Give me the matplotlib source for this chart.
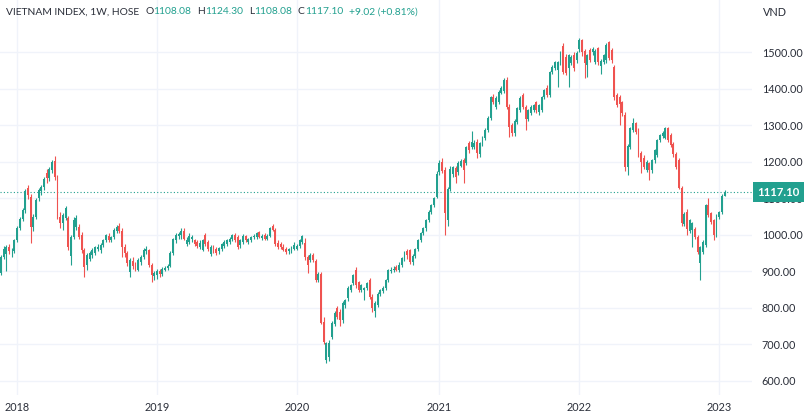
import matplotlib
matplotlib.use("Agg")
import matplotlib.pyplot as plt

W, H = 810, 420
UP, DOWN = "#22a08f", "#ef5350"
TXT = "#2a2e39"
GRID = "#f0f3fa"
plt.rcParams["font.family"] = ["Lato", "DejaVu Sans"]

years = ["2018", "2019", "2020", "2021", "2022", "2023"]
year_bar = [6, 58, 110, 163, 215, 267]     # index of first weekly bar of each year
price_ticks = [600, 700, 800, 900, 1000, 1100, 1200, 1300, 1400, 1500]

# weekly bars, late Nov 2017 .. mid Jan 2023 (one line per year)
opens = [
    895, 940, 948, 966, 955, 957,
    986, 1019, 1045, 1068, 1128, 1105, 1022, 1050, 1100, 1120, 1131, 1170, 1155, 1178, 1204, 1158, 1048, 1032, 1046, 1046, 942, 994, 1022, 1022, 1000, 959, 918, 935, 945, 952, 962, 959, 973, 986, 997, 986, 994, 1011, 1025, 1012, 967, 950, 898, 930, 915, 905, 925, 940, 955, 958, 918, 888,
    890, 902, 893, 904, 910, 916, 950, 985, 998, 1000, 1012, 975, 980, 988, 985, 980, 968, 960, 1000, 980, 948, 966, 962, 955, 962, 970, 975, 980, 990, 1000, 994, 972, 982, 996, 982, 986, 994, 994, 1007, 992, 1000, 990, 998, 1025, 1014, 978, 975, 968, 962, 955, 960, 962,
    962, 970, 980, 977, 939, 931, 945, 930, 877, 893, 762, 658, 665, 720, 757, 800, 788, 766, 808, 826, 850, 868, 905, 870, 850, 849, 856, 877, 829, 793, 808, 838, 846, 855, 877, 900, 904, 912, 904, 918, 937, 955, 958, 925, 943, 961, 985, 1005, 1018, 1041, 1064, 1082, 1104,
    1172, 1200, 1178, 1040, 1127, 1168, 1183, 1172, 1190, 1205, 1198, 1252, 1241, 1242, 1255, 1222, 1250, 1266, 1288, 1321, 1378, 1352, 1364, 1390, 1394, 1425, 1351, 1301, 1280, 1310, 1342, 1384, 1350, 1318, 1334, 1342, 1364, 1337, 1342, 1378, 1403, 1384, 1447, 1458, 1452, 1471, 1518, 1488, 1458, 1471, 1493, 1479,
    1510, 1535, 1505, 1466, 1507, 1500, 1474, 1512, 1462, 1474, 1479, 1528, 1507, 1460, 1384, 1378, 1364, 1330, 1186, 1241, 1288, 1306, 1288, 1225, 1212, 1178, 1196, 1178, 1205, 1219, 1260, 1270, 1267, 1292, 1274, 1250, 1222, 1205, 1130, 1030, 1063, 1012, 1014, 1017, 995, 923, 953, 973, 1082, 1060, 1040, 1000,
    1050, 1063, 1108.08,
]
highs = [
    946, 970, 972, 975, 963, 990,
    1024, 1050, 1074, 1125, 1136, 1112, 1058, 1102, 1128, 1138, 1160, 1180, 1186, 1206, 1216, 1165, 1062, 1060, 1080, 1052, 1000, 1048, 1055, 1030, 1008, 965, 950, 956, 965, 970, 974, 978, 990, 1004, 1006, 998, 1018, 1026, 1032, 1018, 975, 955, 938, 940, 925, 936, 946, 965, 970, 962, 922, 902,
    906, 908, 912, 915, 920, 955, 992, 1005, 1008, 1020, 1018, 995, 1005, 1000, 990, 985, 985, 990, 1005, 985, 972, 972, 968, 968, 978, 985, 990, 995, 1004, 1005, 1000, 990, 1002, 1000, 992, 998, 1002, 1008, 1012, 1002, 1006, 1002, 1022, 1030, 1020, 985, 980, 975, 966, 965, 970, 980,
    975, 990, 1000, 992, 945, 950, 950, 935, 898, 898, 775, 708, 712, 765, 792, 806, 798, 820, 825, 860, 866, 892, 912, 875, 866, 858, 872, 882, 838, 818, 845, 852, 860, 880, 908, 912, 915, 918, 925, 940, 955, 962, 962, 948, 965, 988, 1008, 1022, 1045, 1068, 1085, 1105, 1175,
    1205, 1210, 1185, 1132, 1188, 1190, 1190, 1203, 1208, 1212, 1245, 1258, 1285, 1260, 1262, 1256, 1272, 1292, 1325, 1382, 1386, 1382, 1396, 1408, 1430, 1432, 1358, 1306, 1318, 1352, 1380, 1390, 1356, 1346, 1355, 1360, 1368, 1360, 1382, 1400, 1410, 1450, 1465, 1478, 1478, 1505, 1525, 1495, 1497, 1492, 1500, 1505,
    1540, 1538, 1510, 1497, 1512, 1515, 1510, 1516, 1482, 1497, 1525, 1532, 1512, 1465, 1390, 1384, 1368, 1336, 1250, 1296, 1320, 1310, 1292, 1230, 1218, 1205, 1200, 1208, 1236, 1264, 1278, 1284, 1296, 1296, 1280, 1255, 1226, 1210, 1135, 1062, 1070, 1045, 1036, 1022, 1000, 970, 985, 1085, 1100, 1064, 1045, 1058,
    1066, 1112, 1124.30,
]
lows = [
    889, 935, 902, 948, 940, 950,
    980, 1014, 1038, 1060, 1098, 978, 1012, 1044, 1092, 1110, 1124, 1142, 1148, 1170, 1150, 1045, 1020, 1014, 1040, 958, 918, 988, 1015, 988, 952, 885, 905, 928, 938, 946, 955, 952, 968, 980, 980, 980, 990, 1005, 1005, 940, 940, 915, 885, 908, 900, 900, 918, 935, 948, 912, 870, 878,
    880, 885, 888, 900, 905, 912, 946, 978, 988, 990, 985, 970, 975, 982, 970, 965, 962, 955, 970, 955, 942, 950, 945, 948, 955, 965, 970, 974, 984, 982, 962, 965, 975, 980, 975, 980, 988, 988, 992, 985, 985, 985, 995, 1010, 970, 962, 962, 955, 948, 948, 952, 958,
    958, 965, 975, 932, 896, 925, 925, 870, 872, 755, 700, 649, 655, 715, 752, 770, 752, 760, 800, 820, 845, 862, 855, 845, 845, 822, 850, 825, 790, 774, 802, 832, 840, 850, 872, 895, 898, 900, 898, 912, 930, 935, 920, 918, 938, 955, 980, 1000, 1012, 1035, 1058, 1076, 1100,
    1165, 1170, 1000, 1025, 1120, 1160, 1142, 1165, 1185, 1142, 1192, 1225, 1235, 1236, 1212, 1215, 1245, 1260, 1282, 1315, 1358, 1345, 1358, 1385, 1388, 1345, 1268, 1270, 1272, 1303, 1338, 1345, 1288, 1312, 1328, 1338, 1335, 1330, 1338, 1372, 1378, 1378, 1440, 1452, 1405, 1465, 1440, 1438, 1405, 1465, 1450, 1472,
    1500, 1490, 1430, 1432, 1475, 1494, 1468, 1465, 1440, 1468, 1472, 1480, 1470, 1370, 1350, 1300, 1325, 1175, 1163, 1236, 1282, 1278, 1215, 1170, 1180, 1172, 1150, 1170, 1198, 1214, 1255, 1266, 1262, 1255, 1240, 1215, 1180, 1125, 1025, 1025, 1000, 1005, 967, 990, 948, 878, 948, 968, 1050, 1030, 985, 995,
    1045, 1058, 1108.08,
]
closes = [
    940, 962, 966, 955, 957, 986,
    1019, 1045, 1068, 1120, 1110, 1022, 1050, 1096, 1123, 1131, 1153, 1155, 1180, 1200, 1160, 1050, 1032, 1055, 1074, 967, 994, 1041, 1046, 994, 959, 913, 945, 950, 959, 966, 968, 973, 986, 1000, 986, 994, 1014, 1022, 1012, 967, 950, 923, 931, 915, 908, 931, 940, 959, 962, 918, 890, 897,
    902, 893, 906, 910, 916, 950, 988, 1000, 1003, 1012, 990, 986, 998, 995, 975, 970, 978, 985, 975, 962, 966, 955, 950, 964, 975, 980, 986, 990, 1000, 986, 967, 986, 998, 986, 988, 994, 996, 1005, 995, 998, 990, 998, 1018, 1015, 975, 968, 966, 960, 954, 962, 966, 972,
    970, 986, 997, 939, 918, 945, 932, 877, 893, 760, 707, 703, 705, 760, 787, 775, 767, 815, 822, 856, 862, 890, 862, 849, 862, 856, 868, 829, 800, 815, 838, 849, 856, 877, 904, 904, 908, 904, 918, 937, 951, 945, 925, 943, 961, 985, 1005, 1018, 1041, 1064, 1082, 1100, 1168,
    1198, 1175, 1060, 1125, 1180, 1185, 1160, 1197, 1203, 1178, 1240, 1233, 1255, 1252, 1225, 1252, 1268, 1288, 1321, 1378, 1364, 1376, 1392, 1403, 1425, 1351, 1296, 1279, 1312, 1348, 1375, 1351, 1318, 1342, 1351, 1356, 1342, 1356, 1378, 1397, 1384, 1447, 1460, 1474, 1474, 1501, 1447, 1444, 1493, 1488, 1458, 1498,
    1535, 1500, 1471, 1493, 1479, 1510, 1505, 1474, 1478, 1493, 1521, 1486, 1479, 1378, 1356, 1360, 1334, 1186, 1245, 1293, 1306, 1282, 1219, 1200, 1186, 1200, 1178, 1205, 1233, 1260, 1274, 1280, 1292, 1260, 1247, 1222, 1186, 1130, 1032, 1058, 1017, 1040, 1033, 995, 953, 967, 981, 1082, 1055, 1035, 1000, 1055,
    1063, 1108.08, 1117.10,
]


def candles(ax):
    xs = list(range(len(closes)))
    cols = [UP if c >= o else DOWN for o, c in zip(opens, closes)]
    bottoms = [min(o, c) for o, c in zip(opens, closes)]
    heights = [max(abs(c - o), 1.5) for o, c in zip(opens, closes)]
    ax.vlines(xs, lows, highs, colors=cols, lw=0.8, zorder=2)
    ax.bar(xs, heights, bottom=bottoms, width=0.72, color=cols, lw=0, zorder=3)


def header(fig):
    o, h, l, c = opens[-1], highs[-1], lows[-1], closes[-1]
    chg = c - closes[-2]
    pieces = [("VIETNAM INDEX, 1W, HOSE", TXT, 6),
              ("O", TXT, 0), (f"{o:.2f}", UP, 6),
              ("H", TXT, 0), (f"{h:.2f}", UP, 6),
              ("L", TXT, 0), (f"{l:.2f}", UP, 6),
              ("C", TXT, 0), (f"{c:.2f}", UP, 6),
              (f"{chg:+.2f} ({chg / closes[-2] * 100:+.2f}%)", UP, 0)]
    r = fig.canvas.get_renderer()
    x = 6
    for s, col, gap in pieces:
        t = fig.text(x / W, 1 - 12 / H, s, color=col, fontsize=7.4, ha="left", va="center")
        x += t.get_window_extent(r).width + gap


fig = plt.figure(figsize=(W / 100, H / 100), dpi=100)
ax = fig.add_axes([0, 25 / H, 752 / W, 395 / H])
ax.set_xlim(-0.37, 279.2)
ax.set_ylim(561.6, 1643.8)
for s in ax.spines.values():
    s.set_visible(False)

ax.set_xticks(year_bar)
ax.set_xticklabels(years)
ax.set_yticks(price_ticks)
ax.set_yticklabels([f"{p:.2f}" for p in price_ticks])
ax.yaxis.tick_right()
ax.tick_params(axis="both", length=0, labelsize=7.8, labelcolor=TXT)
ax.tick_params(axis="y", pad=7)
ax.tick_params(axis="x", pad=5)
ax.grid(True, color=GRID, lw=1, zorder=0)
ax.set_axisbelow(True)

candles(ax)

last = closes[-1]
ax.axhline(last, color=UP, lw=0.8, ls=(0, (1, 2)), zorder=1)
ax.annotate(f"{last:.2f}", xy=(1, last), xycoords=ax.get_yaxis_transform(),
            xytext=(4, 0), textcoords="offset points", ha="left", va="center",
            color="white", fontsize=8.2, fontweight="bold", annotation_clip=False,
            bbox=dict(boxstyle="square,pad=0.4", fc=UP, ec="none"), zorder=5)

fig.text(763 / W, 1 - 12 / H, "VND", color=TXT, fontsize=7.8, ha="left", va="center")
header(fig)

fig.savefig("out.png", dpi=100, facecolor="white")
